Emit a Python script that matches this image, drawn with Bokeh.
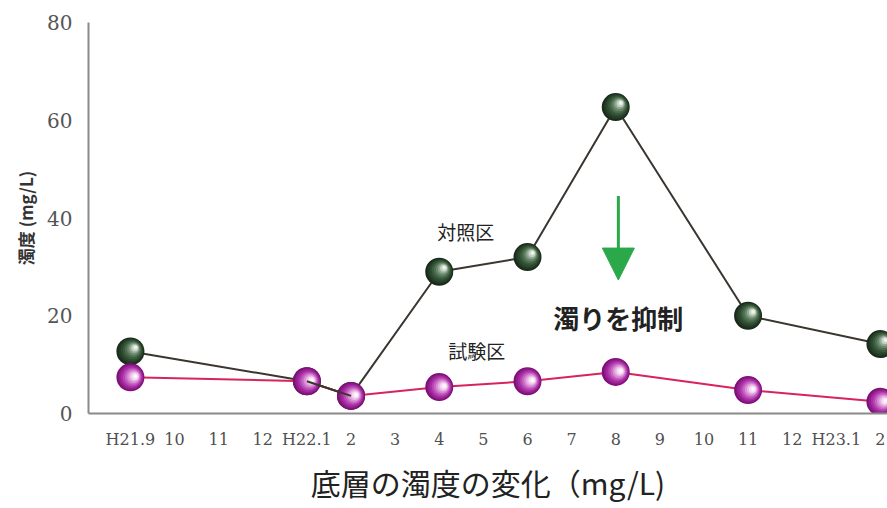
from bokeh.plotting import figure
from bokeh.models import Range1d, Label, Arrow, NormalHead, FixedTicker
from bokeh.embed import file_html
from bokeh.resources import INLINE

# ---- data ----
months = ["H21.9", "10", "11", "12", "H22.1", "2", "3", "4", "5", "6",
          "7", "8", "9", "10", "11", "12", "H23.1", "2"]
ctrl_idx = [0, 4, 5, 7, 9, 11, 14, 17]
ctrl_val = [12.7, 6.6, 3.6, 29.0, 32.0, 62.7, 20.0, 14.2]
test_idx = [0, 4, 5, 7, 9, 11, 14, 17]
test_val = [7.4, 6.6, 3.6, 5.4, 6.6, 8.5, 4.8, 2.4]
y_ticks = [0, 20, 40, 60, 80]

FONT_JP = "Noto Sans CJK JP"

p = figure(width=887, height=508, output_backend="svg", toolbar_location=None,
           x_range=Range1d(-0.95, 17.16), y_range=Range1d(0, 80),
           min_border_left=88, min_border_right=0, min_border_top=22,
           min_border_bottom=95)
p.outline_line_color = None
p.xgrid.visible = False
p.ygrid.visible = False
p.background_fill_color = "white"
p.border_fill_color = "white"

for ax in (p.xaxis[0], p.yaxis[0]):
    ax.axis_line_color = "#8a8a8a"
    ax.axis_line_width = 2
    ax.major_tick_line_color = None
    ax.minor_tick_line_color = None

p.xaxis.ticker = FixedTicker(ticks=list(range(len(months))))
p.xaxis.major_label_overrides = {i: m for i, m in enumerate(months)}
p.xaxis.major_label_text_font = "DejaVu Serif"
p.xaxis.major_label_text_font_size = "16px"
p.xaxis.major_label_text_color = "#505050"
p.xaxis.major_label_standoff = 10
p.xaxis.axis_label = "底層の濁度の変化（mg/L)"
p.xaxis.axis_label_text_font = FONT_JP
p.xaxis.axis_label_text_font_size = "30px"
p.xaxis.axis_label_text_font_style = "normal"
p.xaxis.axis_label_text_color = "#222222"
p.xaxis.axis_label_standoff = 8

p.yaxis.ticker = FixedTicker(ticks=y_ticks)
p.yaxis.major_label_text_font = "DejaVu Serif"
p.yaxis.major_label_text_font_size = "20px"
p.yaxis.major_label_text_color = "#555555"
p.yaxis.major_label_standoff = 10
p.yaxis.axis_label = "濁度 (mg/L)"
p.yaxis.axis_label_text_font = FONT_JP
p.yaxis.axis_label_text_font_size = "17px"
p.yaxis.axis_label_text_font_style = "bold"
p.yaxis.axis_label_text_color = "#333333"
p.yaxis.axis_label_standoff = 6

# pixel scale helpers for highlight offsets (style only)
px_x = (17.16 + 0.95) / 799.0
px_y = 80.0 / 391.0

def sphere(xs, ys, colors, dx, dy):
    n = len(colors)
    for k, c in enumerate(colors):
        s = 28 - k * (24.0 / (n - 1))
        f = k / (n - 1)
        p.scatter([x + f * dx * px_x for x in xs], [y + f * dy * px_y for y in ys],
                  size=s, fill_color=c, line_color=None, marker="circle")

# control series
p.line(ctrl_idx, ctrl_val, line_color="#3b3530", line_width=2)
sphere(ctrl_idx, ctrl_val,
       ["#1a2b1b", "#233a25", "#2d4a30", "#3a5b3d", "#4e6f51", "#6a886b", "#93aa92", "#c4d2c2", "#eef2ec"],
       5, 4)

# test series
p.line(test_idx, test_val, line_color="#d8245c", line_width=2)
sphere(test_idx, test_val,
       ["#7e1078", "#921c8c", "#a52ca0", "#b646b1", "#c866c3", "#d98ed5", "#e8b6e5", "#f5dcf3", "#fdf6fc"],
       5, 1)
p.line(ctrl_idx[1:3], ctrl_val[1:3], line_color="#3b3530", line_width=2)

# annotations
p.add_layout(Label(x=7.6, y=37.2, text="対照区", text_font=FONT_JP, text_font_size="19px",
                   text_color="#222222", text_align="center", text_baseline="middle"))
p.add_layout(Label(x=7.85, y=12.9, text="試験区", text_font=FONT_JP, text_font_size="19px",
                   text_color="#222222", text_align="center", text_baseline="middle"))
p.add_layout(Label(x=11.06, y=19.6, text="濁りを抑制", text_font=FONT_JP, text_font_size="26px",
                   text_font_style="bold", text_color="#222222", text_align="center",
                   text_baseline="middle"))
p.add_layout(Arrow(x_start=11.06, y_start=44.5, x_end=11.06, y_end=27.3,
                   line_color="#2aa84a", line_width=3,
                   end=NormalHead(size=32, fill_color="#2aa84a", line_color="#2aa84a")))

open("out.html", "w").write(file_html(p, INLINE))
